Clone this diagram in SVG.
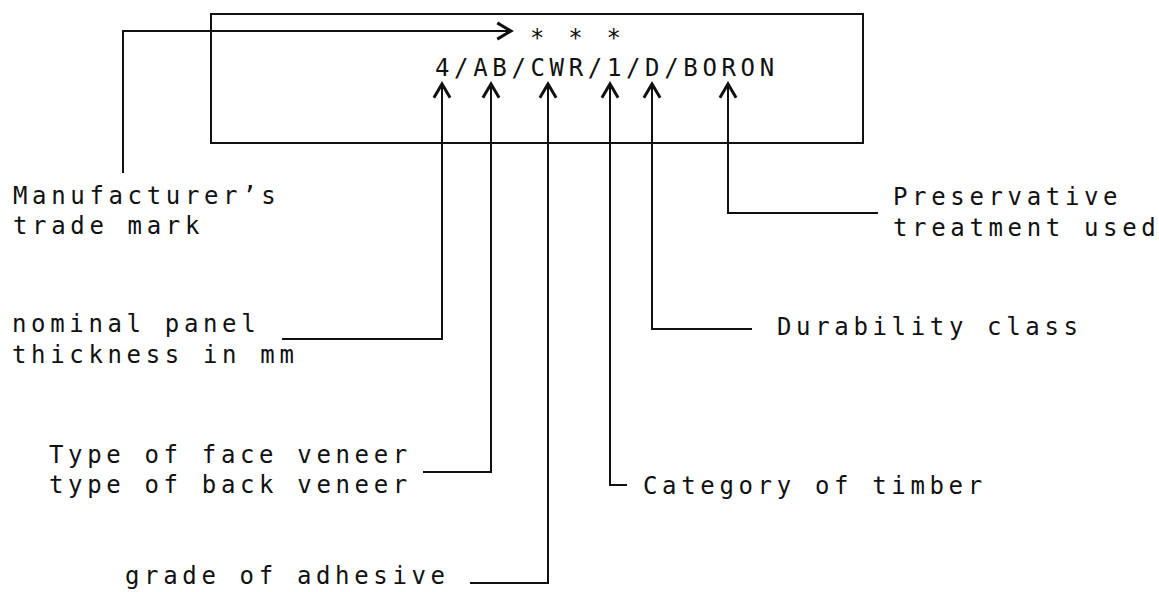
<svg xmlns="http://www.w3.org/2000/svg" width="1159" height="592" viewBox="0 0 1159 592">
  <defs>
    <style>
      .t { font-family: "DejaVu Sans Mono", "Liberation Mono", monospace; font-size: 24px; letter-spacing: 4.65px; fill: #111; }
      .ln { fill: none; stroke: #111; stroke-width: 2; }
      .box { fill: none; stroke: #111; stroke-width: 2; }
    </style>
    <marker id="arr" markerUnits="userSpaceOnUse" markerWidth="20" markerHeight="20" viewBox="-12 -8 14 16" refX="0" refY="0" orient="auto">
      <path d="M-11,-6.5 L0,0 L-11,6.5" fill="none" stroke="#111" stroke-width="2.4" stroke-linejoin="miter"/>
    </marker>
  </defs>
  <rect width="1159" height="592" fill="#fff"/>

  <g id="mark-box">
    <rect class="box" x="211" y="14" width="652" height="129"/>
    <text class="t" x="530" y="46">* * *</text>
    <text class="t" x="435" y="76">4/AB/CWR/1/D/BORON</text>
  </g>

  <g id="connectors">
    <path class="ln" d="M123,173 V31 H511" marker-end="url(#arr)"/>
    <path class="ln" d="M282,339 H442 V84" marker-end="url(#arr)"/>
    <path class="ln" d="M423,472 H491 V84" marker-end="url(#arr)"/>
    <path class="ln" d="M470,583 H548 V84" marker-end="url(#arr)"/>
    <path class="ln" d="M627,485 H610 V84" marker-end="url(#arr)"/>
    <path class="ln" d="M752,329 H652 V84" marker-end="url(#arr)"/>
    <path class="ln" d="M878,213 H728 V84" marker-end="url(#arr)"/>
  </g>

  <g id="manufacturer">
    <text class="t" x="13" y="204">Manufacturer’s</text>
    <text class="t" x="13" y="234">trade mark</text>
  </g>
  <g id="preservative">
    <text class="t" x="893" y="205">Preservative</text>
    <text class="t" x="893" y="236">treatment used</text>
  </g>
  <g id="thickness">
    <text class="t" x="12" y="332">nominal panel</text>
    <text class="t" x="12" y="363">thickness in mm</text>
  </g>
  <g id="durability">
    <text class="t" x="777" y="335">Durability class</text>
  </g>
  <g id="veneer">
    <text class="t" x="49" y="463">Type of face veneer</text>
    <text class="t" x="49" y="493">type of back veneer</text>
  </g>
  <g id="category">
    <text class="t" x="643" y="494">Category of timber</text>
  </g>
  <g id="adhesive">
    <text class="t" x="125" y="584">grade of adhesive</text>
  </g>
</svg>
